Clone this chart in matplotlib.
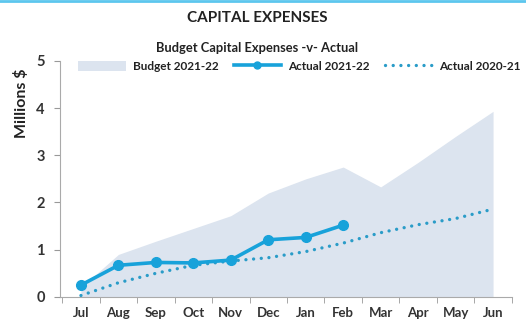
import matplotlib.pyplot as plt
from matplotlib.lines import Line2D
from matplotlib.patches import Patch

# Monthly capital expenses (millions $)
months = ['Jul', 'Aug', 'Sep', 'Oct', 'Nov', 'Dec', 'Jan', 'Feb', 'Mar', 'Apr', 'May', 'Jun']
budget_2122 = [0.2, 0.9, 1.18, 1.45, 1.72, 2.2, 2.5, 2.75, 2.33, 2.85, 3.4, 3.93]
actual_2122 = [0.25, 0.67, 0.73, 0.72, 0.78, 1.21, 1.26, 1.52]
actual_2021 = [0.03, 0.3, 0.5, 0.67, 0.76, 0.83, 0.96, 1.14, 1.36, 1.53, 1.66, 1.86]

plt.rcParams['font.family'] = ['Lato', 'DejaVu Sans']

fig = plt.figure(figsize=(5.26, 3.27), dpi=100)
ax = fig.add_axes([0.114, 0.092, 0.859, 0.722])

dots = (0, (0.01, 2.3))

x = list(range(len(months)))
ax.fill_between(x, budget_2122, 0, color='#dce4ef', linewidth=0)
ax.plot(x, actual_2021, color='#2a9cc8', linestyle=dots, linewidth=2.4,
        dash_capstyle='round')
ax.plot(x[:len(actual_2122)], actual_2122, color='#18a2da', linewidth=2.6,
        marker='o', markersize=7)

ax.set_xlim(-0.56, 11.5)
ax.set_ylim(0, 5)
ax.set_xticks(x)
ax.set_xticklabels(months, fontsize=9.5, fontweight='bold', color='#333333')
ax.set_xticks([i + 0.5 for i in range(-1, 12)], minor=True)
ax.tick_params(axis='x', which='major', length=0, pad=7)
ax.tick_params(axis='x', which='minor', length=4, color='#999999', direction='out')
ax.set_yticks(range(6))
ax.set_yticklabels([str(v) for v in range(6)], fontsize=10.5, fontweight='bold', color='#333333')
ax.tick_params(axis='y', length=4, color='#999999', pad=7)

for side in ['top', 'right']:
    ax.spines[side].set_visible(False)
ax.spines['left'].set_color('#aaaaaa')
ax.spines['bottom'].set_color('#aaaaaa')

ax.set_ylabel('Millions $', fontsize=11.5, fontweight='bold', color='#222222')
ax.yaxis.set_label_coords(-0.068, 0.82)

legend_elements = [
    Patch(facecolor='#dce4ef', edgecolor='none', label='Budget 2021-22'),
    Line2D([0], [0], color='#18a2da', linewidth=2.6, marker='o', markersize=5, label='Actual 2021-22'),
    Line2D([0], [0], color='#2a9cc8', linestyle=dots, linewidth=2.4,
           dash_capstyle='round', label='Actual 2020-21'),
]
leg = ax.legend(handles=legend_elements, loc='upper center', bbox_to_anchor=(0.53, 1.045),
                ncol=3, frameon=False, fontsize=8.5, handlelength=4.0, handleheight=0.9,
                columnspacing=1.3, handletextpad=0.6)
for t in leg.get_texts():
    t.set_fontweight('bold')
    t.set_color('#222222')

fig.text(0.488, 0.852, 'Budget Capital Expenses -v- Actual', ha='center', va='center',
         fontsize=9.3, fontweight='bold', color='#222222')
fig.text(0.49, 0.945, 'CAPITAL EXPENSES', ha='center', va='center',
         fontsize=11, fontweight='bold', color='#222222')

# thin accent rule along the top edge
fig.add_artist(Line2D([0, 1], [0.997, 0.997], color='#5cc6ee', linewidth=2))

fig.savefig('out.png', dpi=100)
